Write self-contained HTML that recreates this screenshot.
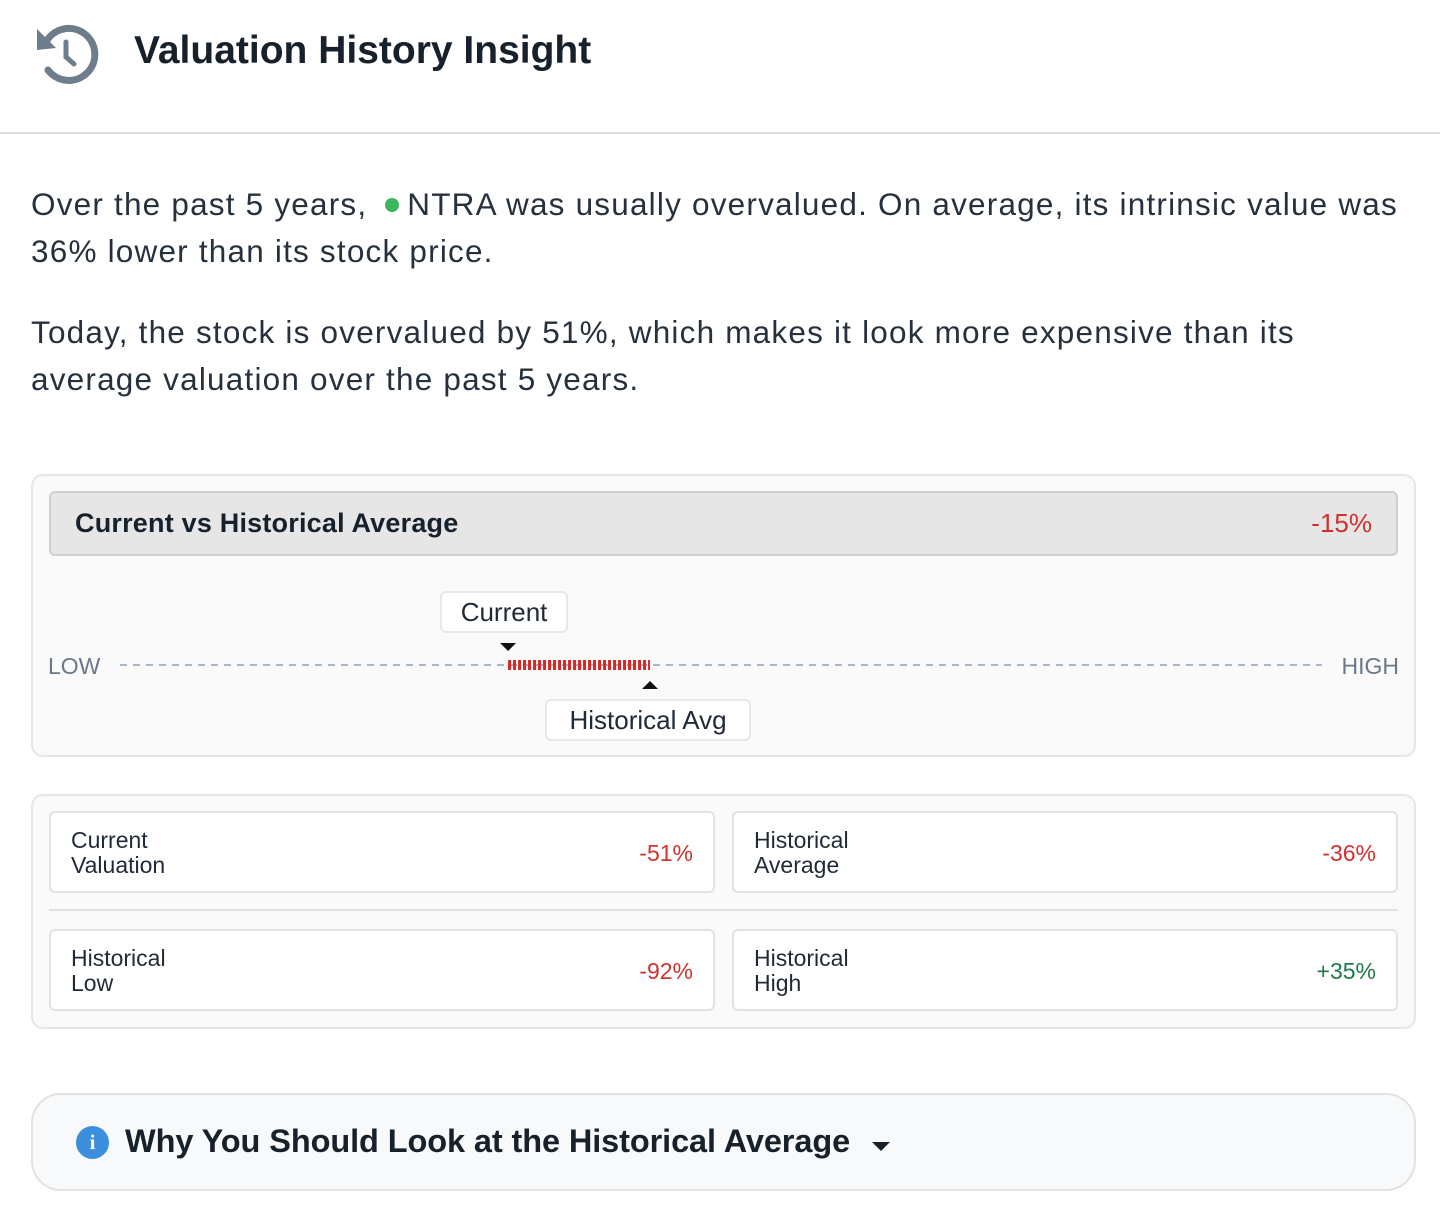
<!DOCTYPE html>
<html><head><meta charset="utf-8">
<style>
*{box-sizing:border-box;margin:0;padding:0}
body{width:1440px;height:1221px;background:#fff;font-family:"Liberation Sans",sans-serif;color:#1f2a36;position:relative;overflow:hidden}
.abs{position:absolute}
.title{left:134px;top:29px;font-size:39px;font-weight:bold;color:#17212c;letter-spacing:0px}
.hr{left:0;top:132px;width:1440px;height:2px;background:#dcdcdc}
.p{left:31px;font-size:31.5px;color:#26313d;line-height:47px;white-space:nowrap;letter-spacing:1.2px}
.card{background:#fafafa;border:2px solid #e6e6e6;border-radius:12px}
.cell{background:#fff;border:2px solid #e2e2e2;border-radius:6px}
.cl{position:absolute;left:20px;top:15px;font-size:23px;line-height:25px;color:#1f2a36}
.cv{position:absolute;right:20px;top:27px;font-size:23px}
.red{color:#d0312d}.green{color:#1e7a4a}
</style></head><body>
<svg class="abs" style="left:34px;top:24px" width="66" height="64" viewBox="0 0 66 64">
<path d="M12 18 A26 26 0 1 1 14 46" fill="none" stroke="#6e7d8b" stroke-width="7" stroke-linecap="round"/>
<polygon points="3,5 3,26 22,24" fill="#6e7d8b"/>
<path d="M32 18 V33 L40 40" fill="none" stroke="#6e7d8b" stroke-width="5" stroke-linecap="round"/>
</svg>
<div class="abs title">Valuation History Insight</div>
<div class="abs hr"></div>

<div class="abs p" style="top:181px">Over the past 5 years, <span style="display:inline-block;width:14px;height:14px;border-radius:50%;background:#3db55b;margin:0 8px 0 8px;vertical-align:3px"></span>NTRA was usually overvalued. On average, its intrinsic value was<br>36% lower than its stock price.</div>
<div class="abs p" style="top:309px">Today, the stock is overvalued by 51%, which makes it look more expensive than its<br>average valuation over the past 5 years.</div>

<div class="abs card" style="left:31px;top:474px;width:1385px;height:283px"></div>
<div class="abs" style="left:49px;top:491px;width:1349px;height:65px;background:#e6e6e6;border:2px solid #cfcfcf;border-radius:6px">
<div class="abs" style="left:24px;top:15px;font-size:27px;font-weight:bold;color:#17212c;letter-spacing:0.2px">Current vs Historical Average</div>
<div class="abs red" style="right:24px;top:15px;font-size:26px">-15%</div>
</div>
<svg id="gauge" class="abs" style="left:0;top:560px" width="1440" height="200"></svg>

<div class="abs card" style="left:31px;top:794px;width:1385px;height:235px"></div>
<div class="abs cell" style="left:49px;top:811px;width:666px;height:82px"><div class="cl">Current<br>Valuation</div><div class="cv red">-51%</div></div>
<div class="abs cell" style="left:732px;top:811px;width:666px;height:82px"><div class="cl">Historical<br>Average</div><div class="cv red">-36%</div></div>
<div class="abs" style="left:49px;top:909px;width:1349px;height:2px;background:#e0e0e0"></div>
<div class="abs cell" style="left:49px;top:929px;width:666px;height:82px"><div class="cl">Historical<br>Low</div><div class="cv red">-92%</div></div>
<div class="abs cell" style="left:732px;top:929px;width:666px;height:82px"><div class="cl">Historical<br>High</div><div class="cv green">+35%</div></div>

<div class="abs" style="left:31px;top:1093px;width:1385px;height:98px;background:#f8f9fa;border:2px solid #e2e2e2;border-radius:30px">
<div class="abs" style="left:43px;top:31px;width:33px;height:33px;border-radius:50%;background:#3c8fdd;color:#fff;font-size:21px;font-weight:bold;text-align:center;line-height:33px;font-family:'Liberation Serif',serif">i</div>
<div class="abs" style="left:92px;top:28px;font-size:32.5px;font-weight:bold;color:#17212c;letter-spacing:-0.1px">Why You Should Look at the Historical Average</div>
<div class="abs" style="left:839px;top:47px;width:0;height:0;border-left:9px solid transparent;border-right:9px solid transparent;border-top:9px solid #17212c"></div>
</div>

<script>
const rangeLabels=["LOW","HIGH"];
const rangeValues=[-92,35];
const currentValue=[-51];
const averageValue=[-36];
const NS="http://www.w3.org/2000/svg";
const svg=document.getElementById('gauge');
const X0=120,X1=1322,LY=105;
function x(v){return X0+(v-rangeValues[0])/(rangeValues[1]-rangeValues[0])*(X1-X0);}
function mk(t,a){const e=document.createElementNS(NS,t);for(const k in a)e.setAttribute(k,a[k]);svg.appendChild(e);return e;}
let t=mk('text',{x:48,y:LY+9,'font-size':23,fill:'#6b7888','font-family':'Liberation Sans, sans-serif'});t.textContent=rangeLabels[0];


t=mk('text',{x:1399,y:LY+9,'font-size':23,fill:'#6b7888','text-anchor':'end','font-family':'Liberation Sans, sans-serif'});t.textContent=rangeLabels[1];


let l=mk('line',{x1:X0,x2:X1,y1:LY,y2:LY,stroke:'#a9b6c4','stroke-width':2,'stroke-dasharray':'7 6'});


const xc=x(currentValue[0]),xa=x(averageValue[0]);
const r=mk('line',{x1:Math.min(xc,xa),x2:Math.max(xc,xa),y1:LY,y2:LY,stroke:'#d62828','stroke-width':10,'stroke-dasharray':'3 2'});


let p=mk('polygon',{points:`${xc-8},${LY-22} ${xc+8},${LY-22} ${xc},${LY-14}`,fill:'#111'});


p=mk('polygon',{points:`${xa-8},${LY+24} ${xa+8},${LY+24} ${xa},${LY+16}`,fill:'#111'});


function box(cx,y,w,label,name){
 const g=mk('g',{});
 
 
 const b=document.createElementNS(NS,'rect');
 b.setAttribute('x',cx-w/2);b.setAttribute('y',y);b.setAttribute('width',w);b.setAttribute('height',40);b.setAttribute('rx',5);b.setAttribute('fill','#fff');b.setAttribute('stroke','#e2e2e2');b.setAttribute('stroke-width',1.5);
 g.appendChild(b);
 const tx=document.createElementNS(NS,'text');
 tx.setAttribute('x',cx);tx.setAttribute('y',y+29);tx.setAttribute('text-anchor','middle');tx.setAttribute('font-size',26);tx.setAttribute('fill','#1f2a36');tx.setAttribute('font-family','Liberation Sans, sans-serif');
 tx.textContent=label;g.appendChild(tx);
}
box(xc-4,32,126,'Current','current-label');
box(xa-2,140,204,'Historical Avg','historical-avg-label');
</script>
</body></html>
